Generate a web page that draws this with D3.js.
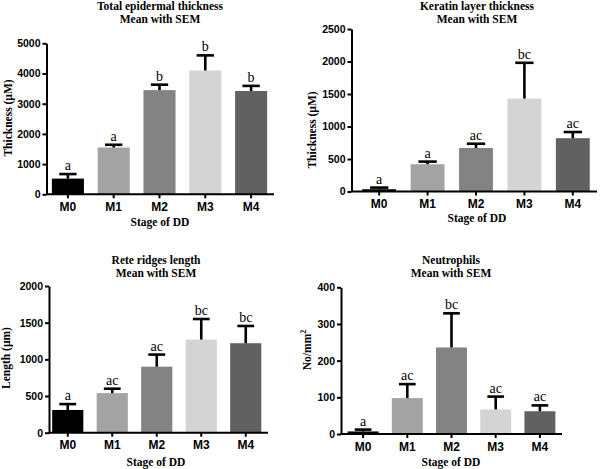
<!DOCTYPE html>
<html>
<head>
<meta charset="utf-8">
<script src="https://cdn.jsdelivr.net/npm/d3@7"></script>
<style>
  body { margin: 0; background: #fff; }
  .tick text { font-family: "Liberation Sans", Arial, sans-serif; font-weight: bold; fill: #000; }
  .ttl { font-family: "Liberation Serif", "Times New Roman", serif; font-weight: bold; fill: #000; }
  .sig { font-family: "Liberation Serif", "Times New Roman", serif; fill: #000; }
</style>
</head>
<body>
<div id="chart"></div>
<script>
var stages = ["M0", "M1", "M2", "M3", "M4"];
var barColors = ["#000000", "#a3a3a3", "#838383", "#d4d4d4", "#616161"];

// Total epidermal thickness
var epiMean = [520, 1550, 3450, 4100, 3420];
var epiSem = [150, 90, 180, 500, 170];
var epiSig = ["a", "a", "b", "b", "b"];
var epiTicks = [0, 1000, 2000, 3000, 4000, 5000];

// Keratin layer thickness
var kerMean = [35, 420, 670, 1430, 820];
var kerSem = [25, 40, 65, 550, 95];
var kerSig = ["a", "a", "ac", "bc", "ac"];
var kerTicks = [0, 500, 1000, 1500, 2000, 2500];

// Rete ridges length
var reteMean = [310, 540, 900, 1270, 1220];
var reteSem = [80, 60, 165, 280, 235];
var reteSig = ["a", "ac", "ac", "bc", "bc"];
var reteTicks = [0, 500, 1000, 1500, 2000];

// Neutrophils
var neuMean = [7, 98, 236, 67, 62];
var neuSem = [5, 38, 93, 35, 16];
var neuSig = ["a", "ac", "bc", "ac", "ac"];
var neuTicks = [0, 100, 200, 300, 400];

var svg = d3.select("#chart").append("svg")
    .attr("width", 600)
    .attr("height", 469);

function drawPanel(p) {
    var x = d3.scaleBand()
        .domain(stages)
        .range([p.left, p.right])
        .paddingInner(0.3)
        .paddingOuter(0.15);

    var y = d3.scaleLinear()
        .domain([0, p.ticks[p.ticks.length - 1]])
        .range([p.base, p.top]);

    var g = svg.append("g");

    // bars
    g.selectAll("rect.bar")
        .data(p.mean)
        .enter()
        .append("rect")
        .attr("class", "bar")
        .attr("x", function(d, i) { return x(stages[i]); })
        .attr("y", function(d) { return y(d); })
        .attr("width", x.bandwidth())
        .attr("height", function(d) { return y(0) - y(d); })
        .attr("fill", function(d, i) { return barColors[i]; });

    // error bars (upper only)
    var cap = x.bandwidth() * 0.27;
    p.mean.forEach(function(m, i) {
        var cx = x(stages[i]) + x.bandwidth() / 2;
        var yt = y(m + p.sem[i]);
        g.append("line")
            .attr("x1", cx).attr("x2", cx)
            .attr("y1", y(m)).attr("y2", yt)
            .attr("stroke", "#000").attr("stroke-width", 2.6);
        g.append("line")
            .attr("x1", cx - cap).attr("x2", cx + cap)
            .attr("y1", yt).attr("y2", yt)
            .attr("stroke", "#000").attr("stroke-width", 2.6);
        g.append("text")
            .attr("class", "sig")
            .attr("x", cx)
            .attr("y", yt - 4)
            .attr("text-anchor", "middle")
            .attr("font-size", "14px")
            .text(p.sig[i]);
    });

    // axes
    var yAxis = g.append("g")
        .attr("transform", "translate(" + p.axisX + ",0)")
        .call(d3.axisLeft(y).tickValues(p.ticks).tickFormat(d3.format("d"))
            .tickSize(4).tickSizeOuter(0).tickPadding(2));
    yAxis.selectAll("text").attr("font-size", "10.5px");

    var xAxis = g.append("g")
        .attr("transform", "translate(0," + p.base + ")")
        .call(d3.axisBottom(x).tickSize(4).tickSizeOuter(0).tickPadding(4));
    xAxis.selectAll("text").attr("font-size", "12px");
    xAxis.select(".domain").attr("d", "M" + p.axisX + ",0H" + p.right);

    svg.selectAll(".domain, .tick line")
        .attr("stroke", "#000")
        .attr("stroke-width", 2);

    // titles
    var t = g.append("text")
        .attr("class", "ttl")
        .attr("text-anchor", "middle")
        .attr("font-size", "11.5px");
    t.append("tspan").attr("x", p.cx).attr("y", p.titleY).text(p.title);
    t.append("tspan").attr("x", p.cx).attr("y", p.titleY + 12.5).text("Mean with SEM");

    g.append("text")
        .attr("class", "ttl")
        .attr("text-anchor", "middle")
        .attr("font-size", "11.5px")
        .attr("x", p.cx)
        .attr("y", p.xLabelY)
        .text("Stage of DD");

    var yl = g.append("text")
        .attr("class", "ttl")
        .attr("text-anchor", "middle")
        .attr("font-size", "11.5px")
        .attr("transform", "translate(" + p.yLabelX + "," + p.yLabelMid + ") rotate(-90)");
    if (p.yLabelSup) {
        yl.append("tspan").text(p.yLabel);
        yl.append("tspan").attr("font-size", "8px").attr("dy", "-5").text(p.yLabelSup);
    } else {
        yl.text(p.yLabel);
    }
}

drawPanel({
    mean: epiMean, sem: epiSem, sig: epiSig, ticks: epiTicks,
    left: 45, right: 274, axisX: 46.5, base: 194.3, top: 43.3,
    title: "Total epidermal thickness", cx: 160, titleY: 10,
    xLabelY: 226, yLabel: "Thickness (\u00b5M)", yLabelX: 12, yLabelMid: 118
});

drawPanel({
    mean: kerMean, sem: kerSem, sig: kerSig, ticks: kerTicks,
    left: 355, right: 597, axisX: 351.5, base: 191.5, top: 29,
    title: "Keratin layer thickness", cx: 477, titleY: 10,
    xLabelY: 222, yLabel: "Thickness (\u00b5M)", yLabelX: 316, yLabelMid: 130
});

drawPanel({
    mean: reteMean, sem: reteSem, sig: reteSig, ticks: reteTicks,
    left: 45.5, right: 268, axisX: 49, base: 432.7, top: 286,
    title: "Rete ridges length", cx: 156, titleY: 264,
    xLabelY: 465.5, yLabel: "Length (\u00b5m)", yLabelX: 10, yLabelMid: 358
});

drawPanel({
    mean: neuMean, sem: neuSem, sig: neuSig, ticks: neuTicks,
    left: 341, right: 562, axisX: 341, base: 434, top: 287.3,
    title: "Neutrophils", cx: 451, titleY: 264,
    xLabelY: 466, yLabel: "No/mm", yLabelSup: "2", yLabelX: 311, yLabelMid: 350
});
</script>
</body>
</html>
